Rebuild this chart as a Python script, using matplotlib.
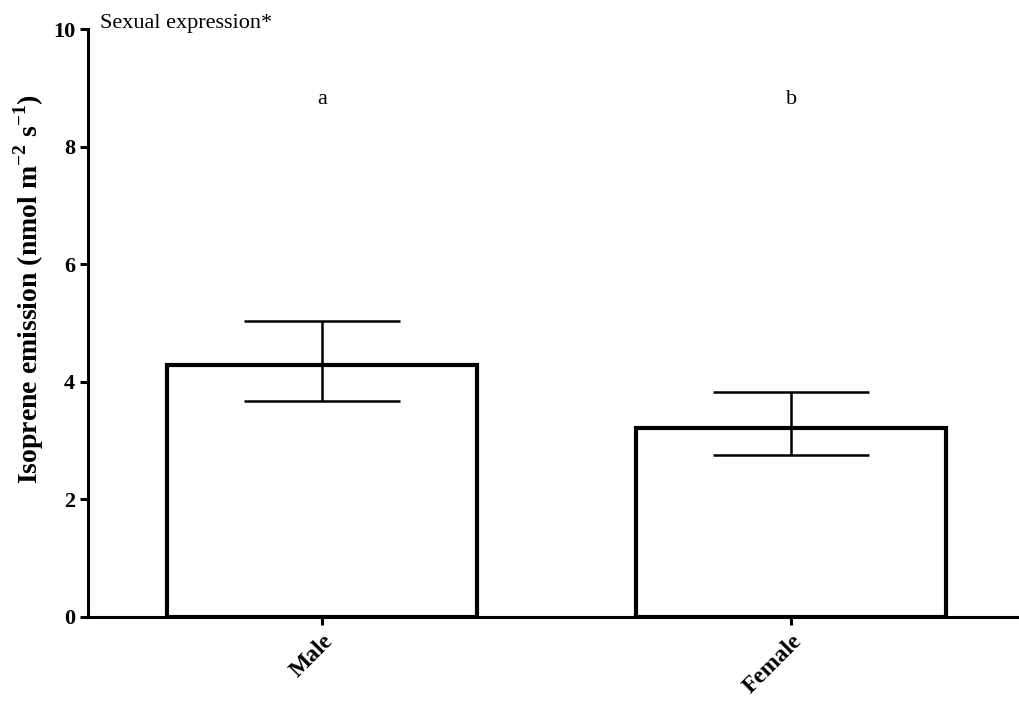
import matplotlib
matplotlib.use("Agg")
import matplotlib.pyplot as plt

# Isoprene emission by sexual expression
groups = ["Male", "Female"]
means = [4.28, 3.21]
upper = [5.04, 3.83]
lower = [3.68, 2.75]
letters = ["a", "b"]

plt.rcParams['font.family'] = ['Liberation Serif', 'DejaVu Serif']
plt.rcParams['mathtext.fontset'] = 'custom'
plt.rcParams['mathtext.rm'] = 'Liberation Serif'
plt.rcParams['mathtext.bf'] = 'Liberation Serif:bold'

fig = plt.figure(figsize=(10.19, 7.02), dpi=100)
ax = fig.add_axes([0.0859, 0.1215, 1.0 - 0.0859, 0.8368])

x = list(range(len(groups)))
ax.bar(x, means, width=0.66, facecolor='white', edgecolor='black', linewidth=3.0, zorder=2)

err_lo = [m - l for m, l in zip(means, lower)]
err_hi = [u - m for m, u in zip(means, upper)]
ax.errorbar(x, means, yerr=[err_lo, err_hi], fmt='none', ecolor='black',
            elinewidth=1.8, capsize=56, capthick=1.8, zorder=3)

for xi, lab in zip(x, letters):
    ax.text(xi, 8.8, lab, ha='center', va='center', fontsize=16)

ax.text(-0.473, 10.03, "Sexual expression*", ha='left', va='baseline', fontsize=16)

ax.set_xlim(-0.5, 1.486)
ax.set_ylim(0, 10)
ax.set_yticks([0, 2, 4, 6, 8, 10])
ax.set_xticks(x)
ax.set_xticklabels(groups, rotation=45, ha='right', rotation_mode='anchor',
                   fontsize=17, fontweight='bold')
for t in ax.get_yticklabels():
    t.set_fontsize(16)
    t.set_fontweight('bold')

ax.spines['top'].set_visible(False)
ax.spines['right'].set_visible(False)
ax.spines['left'].set_linewidth(2.2)
ax.spines['bottom'].set_linewidth(2.2)
ax.tick_params(axis='y', length=6, width=2.2, pad=3)
ax.tick_params(axis='x', length=6, width=2.2, pad=4)

ax.set_ylabel("Isoprene emission (nmol m$^{\\mathbf{-2}}$ s$^{\\mathbf{-1}}$)",
              fontsize=20, fontweight='bold')
ax.yaxis.set_label_coords(-0.045, 0.558)

fig.savefig("out.png", dpi=100)
